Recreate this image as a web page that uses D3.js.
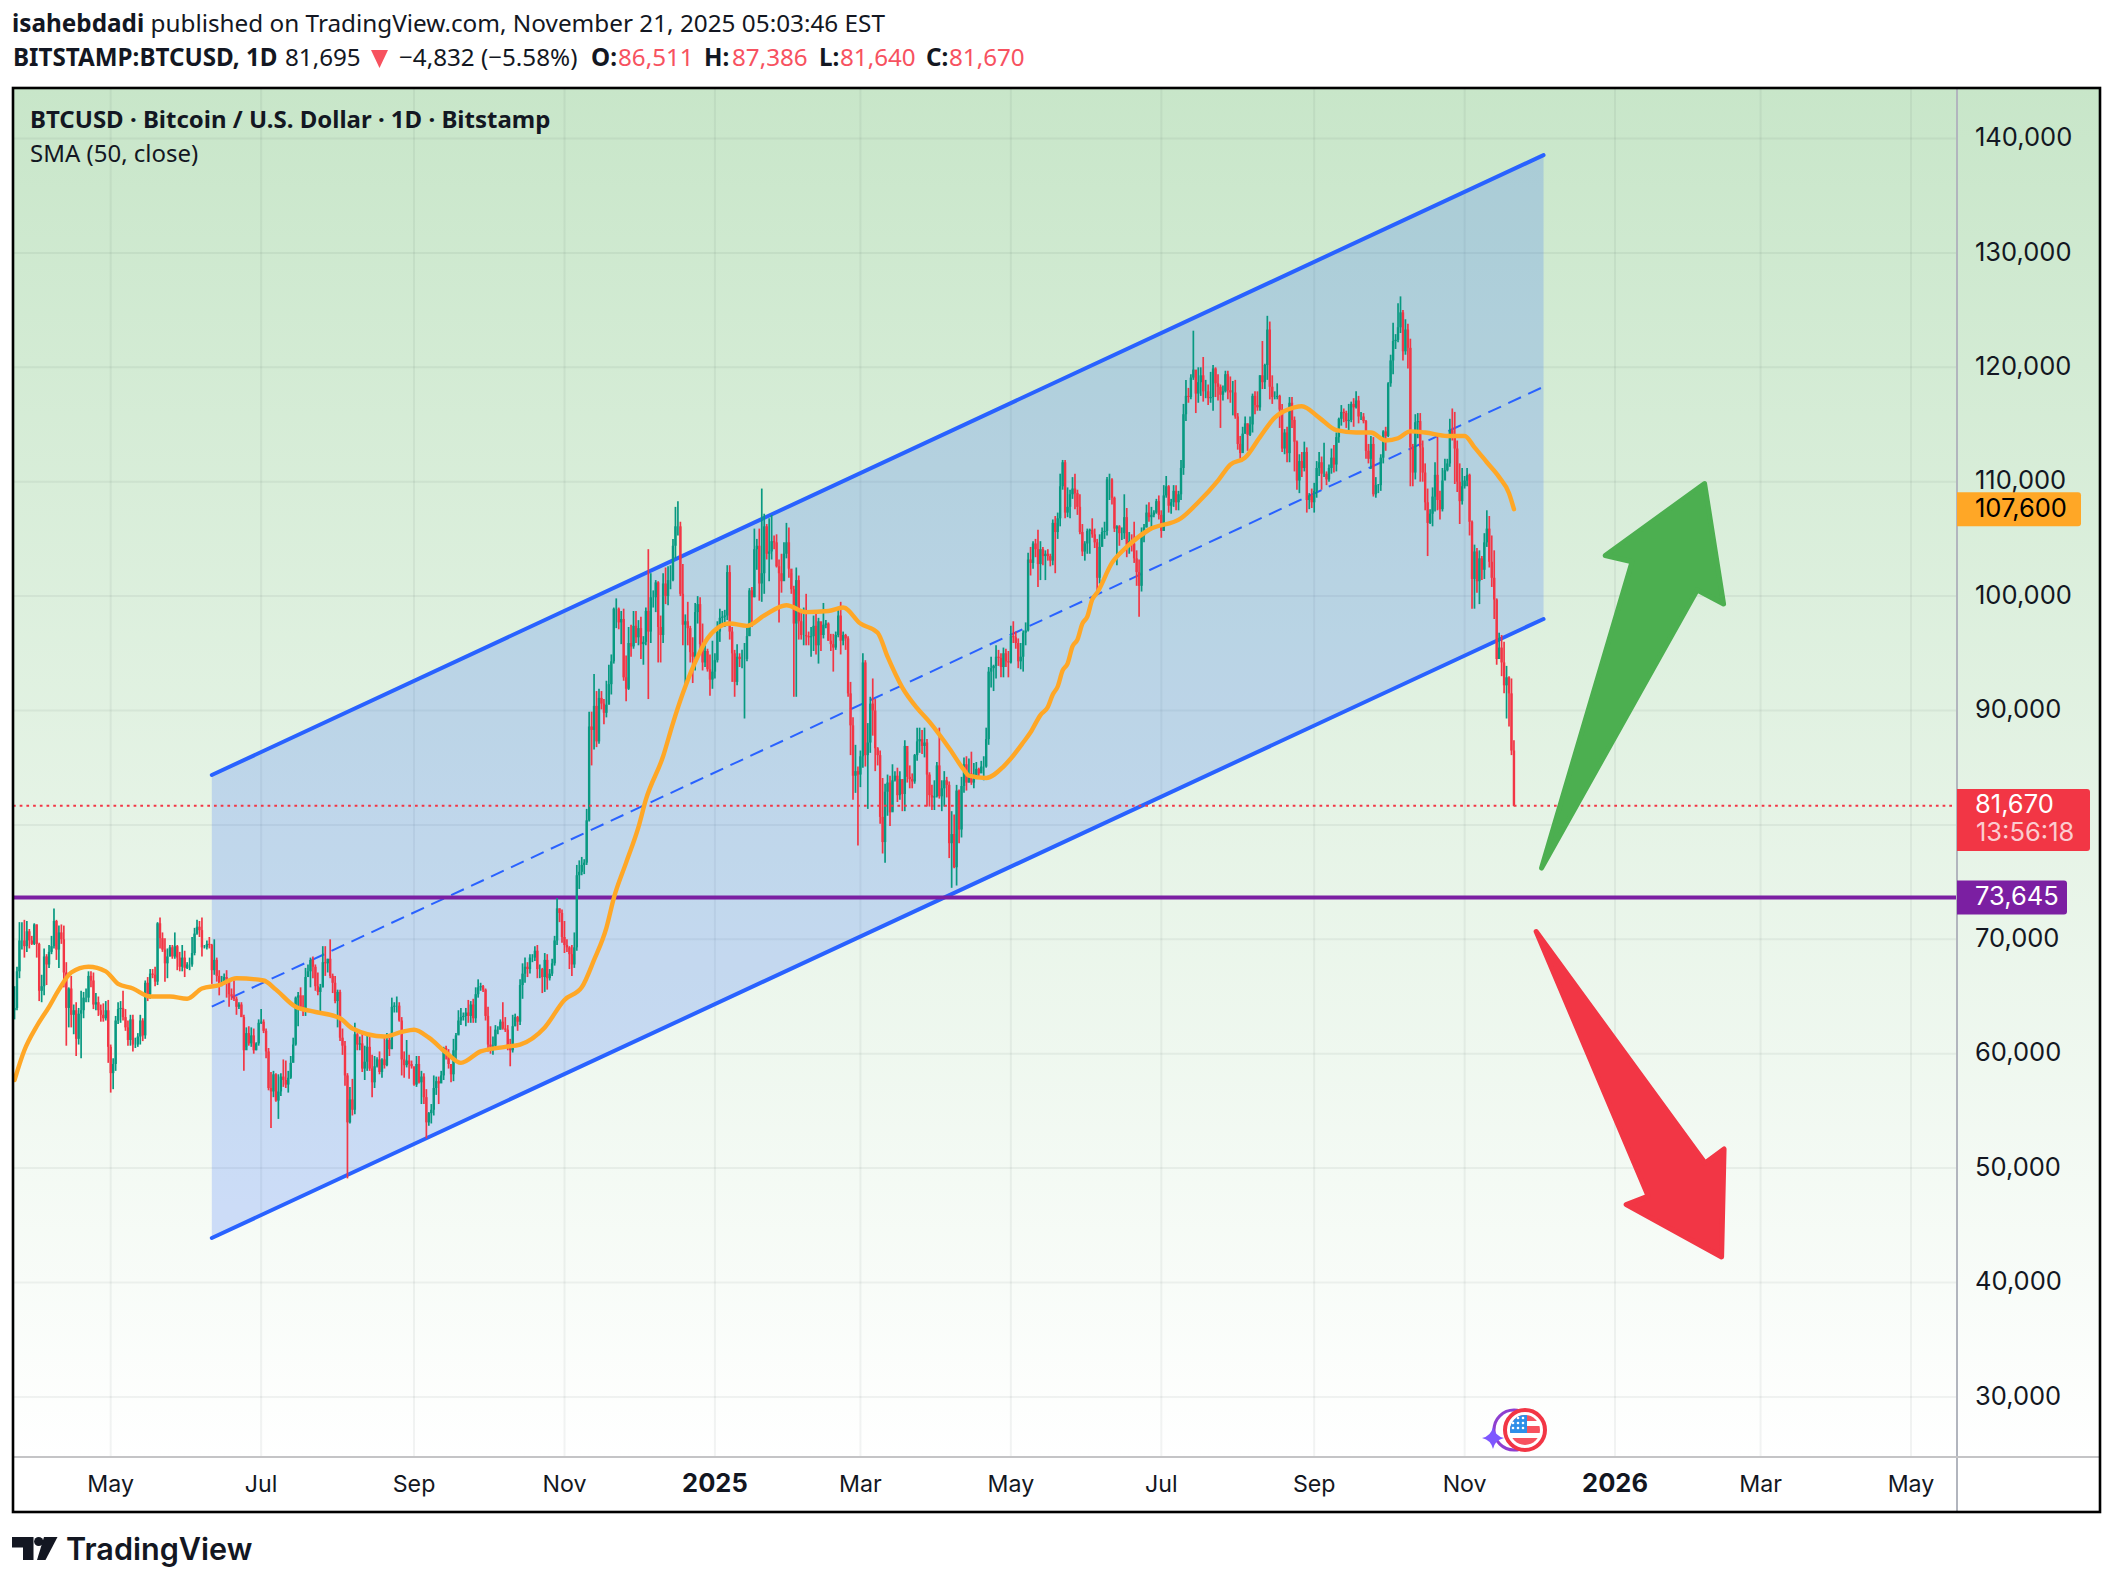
<!DOCTYPE html>
<html>
<head>
<meta charset="utf-8">
<script src="https://cdn.jsdelivr.net/npm/d3@7"></script>
<style>
html, body { margin: 0; padding: 0; background: #fff; }
svg { display: block; }
text { font-family: "Noto Sans", sans-serif; fill: #131722; }
.axis text { font-family: Inter, sans-serif; font-size: 25.5px; }
.axis text.time { font-size: 23.2px; }
.axis text.year { font-size: 25.5px; font-weight: 700; }
</style>
</head>
<body>
<svg id="chart" width="2114" height="1586"></svg>
<script>
// all prices in thousands of USD, one row per month, first candle is 2024-03-23
var firstDay = "2024-03-23";
var closes = [
64.0,67.2,69.9,69.9,69.4,70.7,69.9,69.6,71.3,
69.6,65.5,65.9,68.5,67.8,68.9,69.4,71.6,69.1,70.6,70.0,67.1,64.0,65.7,63.4,63.8,61.3,63.5,63.8,64.9,64.9,66.8,66.4,64.3,64.5,63.8,63.4,63.1,63.8,60.6,
58.3,59.1,62.9,63.9,64.0,63.2,62.3,61.2,63.0,60.8,60.8,61.5,62.9,61.6,66.2,65.2,67.0,66.9,66.3,71.4,70.1,69.1,67.9,68.5,69.3,68.5,69.4,68.4,67.6,68.4,67.5,
67.8,67.8,68.8,70.5,71.1,70.8,69.3,69.3,69.6,69.5,67.3,68.2,66.8,66.0,66.2,66.7,66.5,65.2,65.0,64.8,64.1,64.3,63.2,60.3,61.8,60.9,61.6,60.3,60.9,62.7,
62.8,62.0,60.2,57.0,56.7,58.2,55.9,56.7,58.0,57.7,57.3,57.9,59.2,60.8,64.9,65.1,64.1,63.9,66.7,67.2,68.2,67.6,65.9,65.4,65.8,68.0,67.9,68.3,66.8,66.2,64.6,
65.4,61.4,60.7,58.1,54.0,56.0,55.1,61.7,60.8,60.9,58.7,59.3,60.6,58.7,57.5,58.9,59.5,58.4,59.5,59.0,61.2,60.4,64.1,64.2,64.2,62.9,59.5,59.0,59.4,59.1,58.9,
57.3,59.1,57.5,58.0,56.2,54.0,54.8,55.1,57.0,57.6,57.4,58.1,60.5,60.0,59.1,58.2,60.3,61.6,62.9,63.2,63.3,63.6,63.3,64.3,63.1,65.2,65.8,65.9,65.6,63.3,
60.8,60.6,60.7,62.1,62.1,62.8,62.2,62.1,60.6,60.3,62.4,63.2,62.8,66.0,67.0,67.6,67.4,68.4,68.4,69.0,67.4,67.4,66.7,68.2,66.6,67.0,67.9,69.9,72.7,72.3,70.2,
69.5,69.3,68.7,67.8,69.3,75.6,75.9,76.5,76.7,80.4,88.6,88.3,90.4,87.3,91.1,90.6,89.8,90.5,92.3,94.3,98.9,98.9,97.7,98.0,92.9,91.9,95.9,95.6,97.4,96.4,
97.2,95.8,96.0,98.7,96.9,99.9,99.9,101.2,97.3,96.6,101.1,100.0,101.4,101.4,104.4,106.1,106.1,100.2,97.5,97.8,97.2,95.1,94.7,98.6,99.3,95.8,94.2,95.2,93.6,92.7,93.4,
94.4,96.9,98.1,98.2,98.3,102.1,96.9,95.0,92.5,94.7,94.5,94.5,94.5,96.5,100.5,99.9,104.1,104.4,101.1,102.0,106.1,103.7,103.9,104.8,104.7,102.6,102.0,101.3,103.7,104.7,102.4,
100.6,97.6,101.4,97.8,96.6,96.6,96.5,96.4,96.5,97.4,95.7,97.8,96.6,97.5,97.6,96.1,95.8,95.5,96.6,98.3,96.1,96.6,96.3,91.5,88.7,84.3,84.7,84.4,
86.0,94.2,86.1,87.2,90.6,90.0,86.7,86.1,80.7,78.5,82.9,83.7,81.1,83.9,84.3,82.6,84.0,82.7,86.9,84.2,84.0,83.8,86.1,87.3,87.5,86.9,87.2,84.4,82.6,82.4,82.5,
85.2,82.5,83.2,83.9,83.5,78.4,79.2,76.3,83.0,79.6,83.4,85.3,83.7,84.5,83.7,84.0,84.9,84.5,85.1,85.1,87.5,93.4,93.7,93.9,94.7,94.6,93.8,95.0,94.3,94.2,
96.5,96.4,95.9,94.3,94.7,96.8,97.0,103.2,102.9,104.6,104.1,102.8,104.1,103.5,103.7,103.5,103.1,106.4,105.6,106.8,109.6,111.7,107.3,107.8,108.9,109.4,109.0,107.8,105.6,103.9,104.6,
105.7,105.8,105.4,104.7,101.6,104.3,105.6,105.7,110.2,110.2,108.6,105.9,106.1,105.5,105.5,106.9,104.5,104.8,104.6,103.3,102.1,100.9,105.3,106.0,107.3,106.9,107.1,107.3,108.3,107.1,
105.7,108.8,109.6,107.9,108.2,109.2,108.2,108.9,111.2,115.9,117.5,117.4,119.1,119.8,117.7,118.7,119.3,117.9,117.9,117.3,117.4,119.9,118.6,118.3,117.6,117.9,119.4,118.0,117.8,117.8,115.7,
113.3,112.5,114.2,115.1,114.1,115.0,117.5,116.7,116.5,119.3,118.7,120.2,123.3,118.3,117.4,117.4,117.5,116.3,112.9,114.3,112.5,116.9,115.4,113.5,110.1,111.8,111.2,112.6,108.4,108.8,108.2,
109.2,111.2,111.7,110.7,110.7,110.2,111.2,112.1,111.5,113.9,115.5,116.1,116.0,115.3,115.4,116.8,116.5,117.1,115.7,115.7,115.3,112.7,112.0,113.3,108.9,109.7,109.7,112.1,114.4,114.0,
118.6,120.6,122.3,122.4,123.5,124.8,121.4,123.3,121.7,113.0,110.8,115.2,115.3,113.0,110.8,108.2,106.4,107.2,108.7,110.6,108.4,107.6,110.1,111.0,111.6,114.5,114.1,112.9,110.0,108.3,109.6,
110.1,110.6,106.5,101.5,103.9,101.3,103.3,102.3,104.7,105.9,103.0,101.6,99.7,94.5,95.5,94.2,92.2,92.9,91.5,86.5,81.67
];
var highs = [
65.9,67.6,71.5,71.5,71.7,71.6,70.9,70.3,71.4,
71.3,69.7,66.9,69.2,68.7,69.5,70.3,72.7,71.7,71.2,71.3,71.2,68.0,65.8,66.8,64.3,64.5,64.0,65.5,65.4,65.7,67.2,67.2,67.1,65.3,65.0,64.3,64.4,64.6,64.7,
60.8,59.6,63.3,64.5,64.6,65.5,63.9,62.9,63.4,63.4,61.4,61.8,63.4,63.1,66.4,66.7,67.4,67.4,67.6,71.5,71.9,70.6,70.1,69.2,69.5,69.5,70.6,69.5,68.9,69.5,69.0,
68.0,68.4,70.2,71.0,71.7,71.6,71.9,69.5,69.9,70.2,69.6,70.0,68.4,67.3,66.8,67.0,67.3,66.0,65.7,66.4,65.0,64.5,64.5,63.4,62.3,62.4,62.3,62.2,61.0,63.0,
63.9,63.0,62.2,60.5,58.4,58.5,58.3,58.2,58.3,59.5,59.4,58.5,59.8,61.4,65.0,65.4,65.8,65.1,67.5,67.8,68.4,68.5,67.8,67.1,66.1,69.4,69.4,68.3,70.0,67.0,66.8,
65.6,65.6,62.2,61.1,58.3,57.1,57.8,62.7,61.8,61.5,61.8,60.7,61.6,61.8,59.9,59.8,59.7,60.2,59.6,61.4,61.8,61.4,64.9,64.5,65.0,64.5,63.2,60.2,61.2,59.9,59.4,
58.8,59.8,59.8,58.5,58.3,56.9,54.9,55.6,58.1,58.0,58.0,58.5,60.6,60.7,60.4,59.1,61.3,61.8,63.8,64.0,63.6,64.0,64.7,64.6,64.8,65.8,66.5,66.2,66.0,65.7,
64.1,62.4,61.5,62.5,62.4,63.0,64.5,63.2,62.5,61.3,63.4,63.5,63.3,66.5,67.9,68.4,68.0,68.7,68.7,69.4,69.5,67.8,67.5,68.8,68.7,67.4,68.3,70.3,73.6,72.7,72.6,
71.6,70.0,69.4,69.5,70.6,76.5,76.9,77.2,77.0,81.4,89.9,89.9,93.2,91.7,91.9,91.7,91.0,92.6,94.0,94.9,99.0,99.8,99.0,98.7,98.9,94.8,97.3,97.5,98.7,98.7,
97.9,98.2,96.5,99.0,104.1,102.0,100.5,101.4,101.3,98.3,102.0,102.5,102.6,102.7,105.0,107.8,108.3,106.5,102.8,98.4,99.5,97.4,96.4,99.4,100.0,99.9,97.6,95.7,95.4,94.9,96.1,
95.0,97.8,98.9,98.7,98.8,102.7,102.7,97.3,95.3,95.8,95.0,95.3,95.9,97.4,100.7,100.8,105.9,105.0,105.9,109.4,107.2,106.3,106.8,107.1,105.3,105.4,103.2,103.7,104.7,106.4,106.0,
102.0,100.9,102.5,101.8,98.8,99.0,100.2,96.9,97.3,98.3,98.5,98.1,97.2,99.4,97.9,97.7,96.7,96.7,96.9,98.8,99.5,96.9,96.7,96.5,92.5,89.4,87.0,85.1,
86.5,95.0,94.4,88.9,91.2,92.8,91.0,86.8,86.5,84.1,83.6,84.4,84.3,85.3,84.7,85.0,84.7,84.0,87.4,86.4,85.2,84.5,86.2,88.5,88.5,88.3,88.5,87.5,84.6,83.5,83.9,
85.5,88.5,83.9,84.7,84.2,83.8,81.2,80.9,83.5,83.1,84.2,85.9,86.0,85.8,86.4,85.4,85.5,85.0,85.6,86.0,88.5,93.8,94.7,94.0,95.7,95.3,95.0,95.5,95.4,95.2,
97.4,97.8,96.9,96.3,95.9,97.0,97.7,103.8,104.3,104.8,105.0,105.8,104.8,104.3,104.0,104.1,103.7,106.7,107.0,107.3,110.7,111.9,111.9,109.5,109.3,110.4,110.7,109.3,108.9,106.3,104.8,
105.9,105.9,106.8,105.9,105.0,105.4,106.0,106.5,110.4,110.7,110.3,108.7,106.2,106.2,106.0,108.9,107.7,105.6,105.4,106.5,104.0,103.2,106.0,106.3,108.0,108.2,107.8,107.5,108.5,108.8,
107.5,109.7,110.5,109.7,108.5,109.7,109.7,109.2,111.9,116.8,118.9,118.2,119.4,123.2,119.5,120.0,120.0,120.9,118.9,118.5,119.6,120.2,120.0,119.4,118.5,118.4,119.7,119.7,119.2,118.8,118.9,
116.0,114.0,114.8,115.7,115.1,115.7,117.7,117.9,117.9,119.3,122.3,120.3,124.5,124.0,119.3,117.9,118.6,117.6,116.8,114.6,114.8,117.4,117.4,115.7,113.6,112.4,112.6,113.5,113.0,109.0,109.4,
109.9,111.8,112.6,112.2,113.4,110.9,111.5,112.9,113.2,114.3,115.6,116.7,116.4,116.2,116.8,117.0,117.3,117.9,117.5,116.1,116.0,115.4,113.3,114.0,113.9,110.4,109.8,112.4,114.5,114.8,
118.7,121.1,123.9,122.9,125.6,126.2,125.0,124.2,123.8,122.5,113.3,115.9,116.0,116.0,113.6,111.6,109.4,107.6,109.5,111.7,114.0,109.2,111.2,112.0,112.0,115.5,116.4,116.1,113.6,111.6,111.2,
110.5,111.2,110.7,106.6,104.5,104.2,104.0,103.5,105.5,107.5,107.0,105.3,104.0,99.8,96.8,96.6,96.0,93.9,93.0,92.8,87.39
];
var lows = [
63.0,63.8,66.6,69.1,68.4,68.9,69.2,69.5,69.5,
68.4,64.6,64.5,65.1,66.0,67.5,68.7,69.2,68.2,67.5,69.6,65.8,60.7,62.3,62.3,61.7,59.8,60.8,59.6,63.1,64.5,64.5,65.8,63.9,63.8,63.3,62.8,62.8,62.9,59.2,
56.6,56.9,58.5,62.6,62.7,62.9,62.0,60.7,60.7,60.2,60.5,60.6,60.8,61.1,61.3,64.6,64.8,66.6,65.9,66.0,69.2,68.9,66.3,66.6,68.5,68.3,68.3,67.3,67.2,67.2,66.7,
67.4,67.3,67.6,68.6,70.4,70.2,68.5,69.2,69.1,69.2,66.1,66.9,66.3,65.1,65.9,66.0,64.9,64.1,64.7,64.6,63.4,63.9,63.2,58.5,60.6,60.7,60.6,60.0,60.3,60.7,
62.6,61.8,59.6,56.8,53.5,56.2,55.8,54.3,56.3,57.1,57.0,56.6,57.8,59.6,60.7,62.4,63.9,63.3,63.3,66.7,65.8,66.6,65.5,65.1,63.5,65.8,66.8,67.1,66.6,65.3,64.4,
62.3,61.1,59.9,57.2,49.1,53.9,54.6,54.7,60.3,60.3,58.4,57.7,58.5,58.5,56.2,57.0,58.8,58.2,57.9,58.7,58.9,59.8,60.4,63.6,63.6,62.8,58.1,57.9,58.8,57.8,58.7,
57.2,57.1,57.4,55.6,55.6,52.6,53.7,53.9,54.6,56.4,55.6,57.5,57.7,59.5,58.7,57.5,57.6,59.3,61.7,62.5,62.9,62.4,62.7,62.7,62.7,62.7,64.9,65.5,65.4,62.9,
60.2,60.0,59.9,60.4,61.7,62.1,62.1,61.9,60.3,58.9,60.1,62.4,62.0,62.5,64.8,66.2,66.7,67.0,68.0,68.1,66.6,66.6,65.3,65.4,65.6,66.4,66.8,67.7,69.5,71.5,69.7,
68.8,68.9,67.4,66.8,67.5,69.0,74.4,75.6,75.7,76.5,80.3,85.2,86.6,86.8,87.1,90.1,88.8,89.4,90.6,91.4,94.1,97.2,97.1,95.8,92.6,90.8,91.8,94.7,95.4,95.9,
95.7,94.5,94.0,95.7,91.0,95.9,99.0,98.6,94.2,94.2,95.9,99.3,99.2,100.6,101.3,103.3,105.3,100.0,95.7,92.1,95.7,94.2,92.4,93.5,97.6,95.2,93.5,93.8,93.4,91.3,91.9,
92.8,94.2,96.0,97.5,97.3,97.9,96.2,92.5,91.2,92.2,93.8,93.7,89.3,94.3,96.5,97.3,99.9,102.3,99.6,99.5,100.2,103.2,101.3,103.2,104.1,102.5,97.7,100.3,101.4,103.3,101.6,
100.2,91.2,91.2,96.2,96.2,95.7,95.7,95.7,94.7,95.2,94.9,94.1,95.2,96.3,97.2,96.1,95.2,93.4,95.3,96.4,94.9,95.7,95.3,91.2,86.1,82.2,82.8,78.2,
83.3,85.0,85.1,81.4,86.3,87.8,84.7,85.2,80.1,77.5,76.7,80.8,79.9,81.2,83.8,82.0,82.2,81.2,81.2,83.7,83.2,83.2,83.6,85.6,86.3,86.2,85.9,81.6,81.6,81.3,81.3,
82.4,82.3,81.2,81.6,82.4,77.1,74.5,76.2,74.7,78.4,78.9,82.8,83.0,83.7,83.5,83.2,84.1,84.1,84.7,83.9,85.0,87.0,92.0,91.7,92.8,93.9,92.9,92.9,93.8,92.9,
94.1,95.9,95.4,93.7,93.6,93.4,95.7,96.9,101.8,102.4,103.4,100.8,101.4,102.7,101.4,103.1,102.6,102.7,102.0,105.0,106.1,109.3,106.8,106.9,106.8,108.5,107.6,107.1,105.4,103.5,103.1,
103.7,103.7,105.1,104.2,100.4,101.1,104.9,105.0,105.3,108.4,108.0,105.6,102.7,104.4,104.9,105.0,103.4,103.7,103.9,102.9,100.9,98.2,100.4,104.7,106.0,106.5,105.9,106.9,107.2,106.7,
105.1,105.7,108.6,107.3,107.2,107.8,107.5,107.5,108.4,110.6,115.3,116.9,117.2,118.9,116.0,116.9,117.5,117.0,117.3,116.7,116.9,116.2,117.4,117.1,114.7,117.1,117.8,117.2,116.9,115.8,115.5,
112.8,112.0,112.7,114.2,112.7,114.0,114.3,115.9,116.2,116.2,118.1,118.1,118.9,117.2,116.8,117.2,117.2,114.7,112.6,112.4,111.7,111.7,114.7,110.9,109.3,109.0,110.4,110.9,107.3,107.6,107.7,
107.3,108.6,110.5,109.3,110.4,109.7,110.0,110.7,110.8,110.9,113.4,114.9,115.2,114.7,114.4,115.2,114.8,116.4,115.1,115.4,115.1,112.0,111.6,111.1,108.7,108.6,109.0,109.2,111.6,112.7,
113.9,118.3,119.4,121.6,122.2,123.0,120.6,121.1,119.9,109.6,109.6,110.2,113.8,110.0,110.0,107.5,103.5,106.3,106.1,107.4,107.5,106.7,107.4,110.4,110.9,111.3,113.6,109.8,109.1,106.3,108.0,
109.4,109.6,105.3,98.9,98.9,100.3,99.3,101.4,101.5,104.3,102.5,100.8,98.0,94.0,94.6,93.0,91.5,89.3,88.6,86.1,81.64
];

// SMA: candle number, value
var smaIdx = [0,4,9,14,18,23,30,37,42,48,55,63,70,76,83,90,101,106,114,121,132,137,150,157,162,168,175,181,189,199,205,215,223,230,235,240,243,248,253,256,263,267,271,277,281,290,297,304,313,321,330,336,343,350,354,360,366,371,379,385,387,394,401,404,409,412,416,419,421,423,425,427,429,431,433,435,437,439,445,451,460,473,480,488,493,499,505,511,519,522,529,536,544,550,556,561,566,572,581,588,592,597,602,606,608];
var smaVal = [57.7,60.3,62.4,64.1,65.6,67.1,67.6,67.2,66.1,65.7,65.0,65.0,64.8,65.7,66.0,66.6,66.4,65.6,64.1,63.7,63.1,62.2,61.5,61.9,62.1,61.4,60.1,59.2,60.2,60.6,60.8,62.3,64.7,65.8,68.2,71.0,73.6,76.7,79.8,82.2,86.0,88.9,91.5,94.7,96.3,97.6,97.4,98.3,99.2,98.6,98.7,99.0,97.6,96.8,94.7,92.0,90.2,89.0,86.7,84.8,84.3,84.1,85.1,85.8,87.2,88.1,89.6,90.3,91.4,92.1,93.5,94.1,95.6,96.2,97.6,98.2,99.7,100.3,102.9,104.3,105.8,106.8,108.2,110.1,111.5,112.1,113.9,115.6,116.5,116.6,115.6,114.5,114.3,114.3,113.6,113.8,114.4,114.3,114.0,114.0,113.0,111.7,110.4,109.0,107.6];

// channel drawn on the chart
var channelDates = ["2024-06-11", "2025-12-03"];
var channelTop = [84.36, 138.55];
var channelBottom = [43.89, 98.0];
var channelMid = [64.12, 118.3];

// the two hand drawn arrows, days after 2024-05-01 and price
var upArrowDays = [580.2, 616.9, 606.0, 646.3, 654.0, 643.3];
var upArrowPrice = [76.23, 103.0, 103.55, 109.84, 99.31, 100.53];
var downArrowDays = [578.0, 646.5, 654.2, 653.2, 614.5, 623.4];
var downArrowPrice = [70.68, 50.45, 51.67, 42.23, 46.82, 47.56];

var priceTicks = [30, 40, 50, 60, 70, 80, 90, 100, 110, 120, 130, 140];
var timeTickDates = ["2024-05-01","2024-07-01","2024-09-01","2024-11-01","2025-01-01","2025-03-01","2025-05-01","2025-07-01","2025-09-01","2025-11-01","2026-01-01","2026-03-01","2026-05-01"];
var timeTickLabels = ["May","Jul","Sep","Nov","2025","Mar","May","Jul","Sep","Nov","2026","Mar","May"];

var supportLevel = 73.645;
var lastClose = 81.67;
var lastSma = 107.6;

var upColor = "#089981", downColor = "#F23645", blue = "#2962FF", orange = "#FFA726", purple = "#7B1FA2";

var left = 13, right = 1957, top_ = 88, bottom = 1457, frameR = 2100, frameB = 1512;

var x = d3.scaleUtc().domain([new Date("2024-05-01"), new Date("2026-05-01")]).range([110.7, 1911]);
var y = d3.scaleLinear().domain([70, 110]).range([939.3, 481.7]);

var start = new Date(firstDay);
function dayAt(i) { return d3.utcDay.offset(start, i); }
function arrowX(d) { return x(new Date(Date.UTC(2024, 4, 1) + d * 864e5)); }

var svg = d3.select("#chart");
var defs = svg.append("defs");
var grad = defs.append("linearGradient").attr("id", "bg").attr("x1", 0).attr("y1", 0).attr("x2", 0).attr("y2", 1);
grad.append("stop").attr("offset", 0).attr("stop-color", "#c8e6c9");
grad.append("stop").attr("offset", 1).attr("stop-color", "#ffffff");
defs.append("clipPath").attr("id", "plot").append("rect")
	.attr("x", left).attr("y", top_).attr("width", right - left).attr("height", bottom - top_);

// Background, gradient runs under the price axis too
svg.append("rect").attr("x", left).attr("y", top_).attr("width", frameR - left).attr("height", bottom - top_).attr("fill", "url(#bg)");

var plot = svg.append("g").attr("clip-path", "url(#plot)");

// grid
plot.selectAll(".hgrid").data(priceTicks).enter().append("line")
	.attr("x1", left).attr("x2", right)
	.attr("y1", function(d) { return y(d); }).attr("y2", function(d) { return y(d); })
	.attr("stroke", "#2a2e39").attr("stroke-opacity", 0.06).attr("stroke-width", 2);
plot.selectAll(".vgrid").data(timeTickDates).enter().append("line")
	.attr("y1", top_).attr("y2", bottom)
	.attr("x1", function(d) { return x(new Date(d)); }).attr("x2", function(d) { return x(new Date(d)); })
	.attr("stroke", "#2a2e39").attr("stroke-opacity", 0.06).attr("stroke-width", 2);

// channel
var cx0 = x(new Date(channelDates[0])), cx1 = x(new Date(channelDates[1]));
plot.append("path")
	.attr("d", "M" + cx0 + "," + y(channelTop[0]) + "L" + cx1 + "," + y(channelTop[1]) + "L" + cx1 + "," + y(channelBottom[1]) + "L" + cx0 + "," + y(channelBottom[0]) + "Z")
	.attr("fill", blue).attr("fill-opacity", 0.2);
[channelTop, channelBottom].forEach(function(c) {
	plot.append("line").attr("x1", cx0).attr("x2", cx1).attr("y1", y(c[0])).attr("y2", y(c[1]))
		.attr("stroke", blue).attr("stroke-width", 4).attr("stroke-linecap", "round");
});
plot.append("line").attr("x1", cx0).attr("x2", cx1).attr("y1", y(channelMid[0])).attr("y2", y(channelMid[1]))
	.attr("stroke", blue).attr("stroke-width", 2).attr("stroke-dasharray", "14,8");

// horizontal level
plot.append("line").attr("x1", left).attr("x2", right).attr("y1", y(supportLevel)).attr("y2", y(supportLevel))
	.attr("stroke", purple).attr("stroke-width", 4);

// candles
var candles = plot.selectAll(".candle").data(closes).enter().append("g");
function candleColor(d, i) {
	var open = i == 0 ? 63.8 : closes[i - 1];
	return d >= open ? upColor : downColor;
}
candles.append("line")
	.attr("x1", function(d, i) { return x(dayAt(i)); })
	.attr("x2", function(d, i) { return x(dayAt(i)); })
	.attr("y1", function(d, i) { return y(highs[i]); })
	.attr("y2", function(d, i) { return y(lows[i]); })
	.attr("stroke", candleColor).attr("stroke-width", 1.7);
candles.append("rect")
	.attr("x", function(d, i) { return x(dayAt(i)) - 1.2; })
	.attr("width", 2.4)
	.attr("y", function(d, i) {
		var open = i == 0 ? 63.8 : closes[i - 1];
		return y(Math.max(open, d));
	})
	.attr("height", function(d, i) {
		var open = i == 0 ? 63.8 : closes[i - 1];
		return Math.abs(y(open) - y(d));
	})
	.attr("fill", candleColor);

// last price dotted line
plot.append("line").attr("x1", left).attr("x2", right).attr("y1", y(lastClose)).attr("y2", y(lastClose))
	.attr("stroke", downColor).attr("stroke-width", 2).attr("stroke-dasharray", "2.7,4");

// SMA
var smaLine = d3.line()
	.x(function(d) { return x(dayAt(d)); })
	.y(function(d, i) { return y(smaVal[i]); })
	.curve(d3.curveMonotoneX);
plot.append("path").attr("d", smaLine(smaIdx)).attr("fill", "none")
	.attr("stroke", orange).attr("stroke-width", 4.4).attr("stroke-linejoin", "round").attr("stroke-linecap", "round");

// arrows
function drawArrow(days, price, color) {
	var line = d3.line().x(function(d) { return arrowX(d); }).y(function(d, i) { return y(price[i]); });
	svg.append("path").attr("d", line(days) + "Z").attr("fill", color).attr("stroke", color)
		.attr("stroke-width", 5).attr("stroke-linejoin", "round");
}
drawArrow(upArrowDays, upArrowPrice, "#4CAF50");
drawArrow(downArrowDays, downArrowPrice, "#F23645");

// economic event marker, bottom right of the price bars
var mark = svg.append("g");
mark.append("circle").attr("cx", 1514).attr("cy", 1430).attr("r", 20).attr("fill", "#fff").attr("stroke", "#8E3FD0").attr("stroke-width", 3);
mark.append("path").attr("d", "M1493,1427 Q1495,1436 1504,1438 Q1495,1440 1493,1449 Q1491,1440 1482,1438 Q1491,1436 1493,1427Z").attr("fill", "#7E57FF");
mark.append("circle").attr("cx", 1525).attr("cy", 1430).attr("r", 20).attr("fill", "#fff").attr("stroke", downColor).attr("stroke-width", 4);
mark.append("clipPath").attr("id", "flag").append("circle").attr("cx", 1525).attr("cy", 1430).attr("r", 15);
var flag = mark.append("g").attr("clip-path", "url(#flag)");
flag.append("rect").attr("x", 1508).attr("y", 1414).attr("width", 34).attr("height", 7).attr("fill", "#F7525F");
flag.append("rect").attr("x", 1508).attr("y", 1426).attr("width", 34).attr("height", 7).attr("fill", "#F7525F");
flag.append("rect").attr("x", 1508).attr("y", 1438).attr("width", 34).attr("height", 7).attr("fill", "#F7525F");
flag.append("rect").attr("x", 1508).attr("y", 1414).attr("width", 19).attr("height", 19).attr("fill", "#2E8FE8");
[1418, 1423, 1428].forEach(function(sy) {
	[1513, 1518, 1523].forEach(function(sx) {
		flag.append("circle").attr("cx", sx).attr("cy", sy).attr("r", 1.3).attr("fill", "#fff");
	});
});

// axis lines and frame
svg.append("line").attr("x1", right).attr("x2", right).attr("y1", top_).attr("y2", frameB).attr("stroke", "#b2b5be").attr("stroke-width", 2);
svg.append("line").attr("x1", left).attr("x2", frameR).attr("y1", bottom).attr("y2", bottom).attr("stroke", "#c4c4c6").attr("stroke-width", 2);
svg.append("rect").attr("x", left).attr("y", top_).attr("width", frameR - left).attr("height", frameB - top_)
	.attr("fill", "none").attr("stroke", "#000").attr("stroke-width", 2.6);

// price axis
var axisG = svg.append("g").attr("class", "axis");
axisG.selectAll(".p").data(priceTicks).enter().append("text")
	.attr("x", 1975).attr("y", function(d) { return y(d) + 7.6; })
	.text(function(d) { return d3.format(",")(d * 1000); });

// price labels
function priceLabel(v, w, color, txtColor, txt) {
	axisG.append("path")
		.attr("d", "M" + right + "," + (y(v) - 17) + "h" + (w - 3) + "a3,3 0 0 1 3,3v28a3,3 0 0 1 -3,3h-" + (w - 3) + "Z")
		.attr("fill", color);
	axisG.append("text").attr("x", 1975).attr("y", y(v) + 7.6).style("fill", txtColor).text(txt);
}
priceLabel(lastSma, 124, orange, "#000", "107,600");
priceLabel(supportLevel, 110, purple, "#fff", "73,645");
axisG.append("path")
	.attr("d", "M" + right + ",789h130a3,3 0 0 1 3,3v56a3,3 0 0 1 -3,3h-130Z").attr("fill", downColor);
axisG.append("text").attr("x", 1975).attr("y", y(lastClose) + 7.6).style("fill", "#fff").text("81,670");
axisG.append("text").attr("x", 1976).attr("y", 840.5).style("fill", "#fff").style("fill-opacity", 0.75).text("13:56:18");

// time axis
axisG.selectAll(".t").data(timeTickDates).enter().append("text")
	.attr("class", function(d, i) { return timeTickLabels[i].length == 4 ? "year" : "time"; })
	.attr("text-anchor", "middle")
	.attr("x", function(d) { return x(new Date(d)); })
	.attr("y", 1492)
	.text(function(d, i) { return timeTickLabels[i]; });

// legend in the chart
svg.append("text").attr("x", 30).attr("y", 128).attr("font-size", 24).attr("font-weight", 700).text("BTCUSD · Bitcoin / U.S. Dollar · 1D · Bitstamp");
svg.append("text").attr("x", 30).attr("y", 162).attr("font-size", 24).text("SMA (50, close)");

// header
var head = svg.append("text").attr("x", 12).attr("y", 32).attr("font-size", 24.3);
head.append("tspan").attr("font-weight", 700).text("isahebdadi");
head.append("tspan").text(" published on TradingView.com, November 21, 2025 05:03:46 EST");

var redTxt = "#F7525F";
var row2 = [
	[13, "BITSTAMP:BTCUSD, 1D", 700, "#131722"],
	[285, "81,695", 400, "#131722"],
	[399, "−4,832 (−5.58%)", 400, "#131722"],
	[591, "O:", 700, "#131722"], [618, "86,511", 400, redTxt],
	[704, "H:", 700, "#131722"], [732, "87,386", 400, redTxt],
	[819, "L:", 700, "#131722"], [840, "81,640", 400, redTxt],
	[926, "C:", 700, "#131722"], [949, "81,670", 400, redTxt]
];
svg.selectAll(".row2").data(row2).enter().append("text")
	.attr("x", function(d) { return d[0]; }).attr("y", 66).attr("font-size", 24.2)
	.attr("font-weight", function(d) { return d[2]; })
	.style("fill", function(d) { return d[3]; })
	.text(function(d) { return d[1]; });
svg.append("path").attr("d", "M371,50h17l-8.5,18Z").attr("fill", redTxt);

// TradingView logo
var logo = svg.append("g").attr("fill", "#131722");
logo.append("path").attr("d", "M12,1537h21.5v23h-10.5v-12.5h-11Z");
logo.append("circle").attr("cx", 38.7).attr("cy", 1541.5).attr("r", 4.6);
logo.append("path").attr("d", "M44,1537h13.5l-12,23h-8.5Z");
svg.append("text").attr("x", 66).attr("y", 1560).style("font-family", "Inter").attr("font-size", 30.6).attr("font-weight", 600).text("TradingView");
</script>
</body>
</html>
